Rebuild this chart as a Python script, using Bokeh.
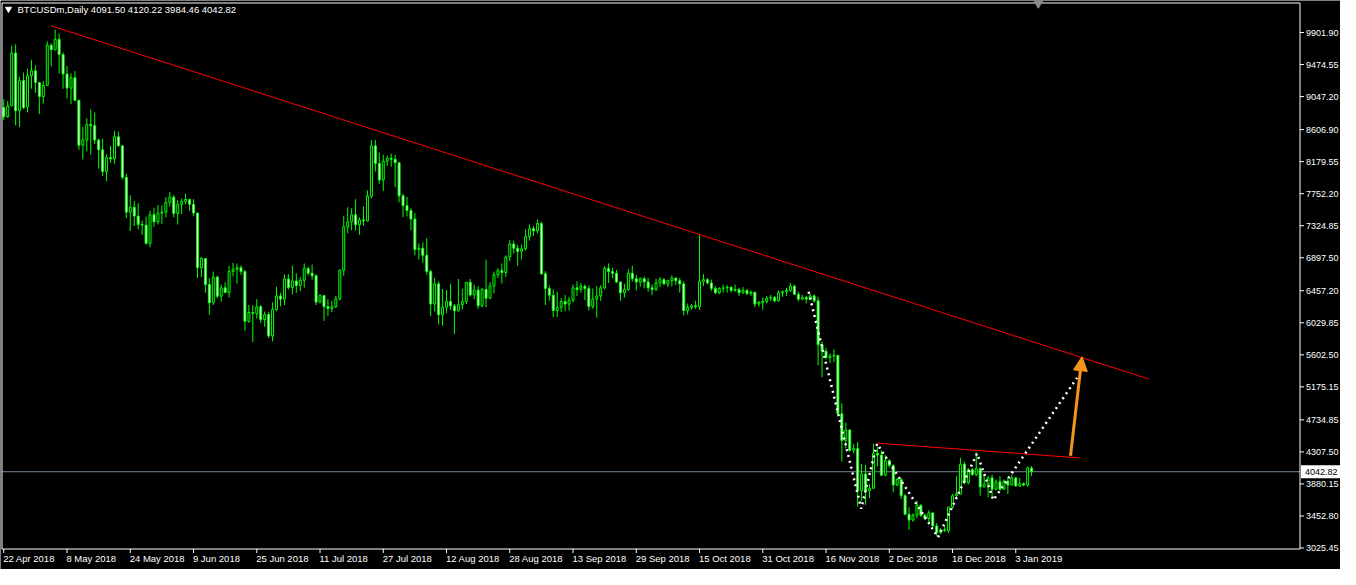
from bokeh.plotting import figure
from bokeh.models import Range1d, Arrow, NormalHead, ColumnDataSource
from bokeh.core.properties import value
from bokeh.embed import file_html
from bokeh.resources import INLINE

# ---------------- data (BTCUSDm, Daily) ----------------
opens = [8901, 8780, 8923, 9629, 8858, 9261, 8910, 9326, 9391, 9235,
         9049, 9196, 9733, 9673, 9811, 9608, 9348, 9161, 9300, 8997,
         8399, 8468, 8676, 8659, 8468, 8338, 8048, 8234, 8217, 8512,
         8390, 7970, 7506, 7571, 7454, 7342, 7333, 7090, 7472, 7376,
         7493, 7506, 7636, 7706, 7489, 7610, 7649, 7675, 7610, 7493,
         6765, 6886, 6540, 6297, 6640, 6384, 6496, 6436, 6713, 6743,
         6765, 6713, 6050, 6167, 6154, 6245, 6072, 6141, 5855, 6206,
         6388, 6345, 6614, 6501, 6588, 6527, 6596, 6752, 6691, 6657,
         6306, 6392, 6245, 6219, 6245, 6349, 6730, 7311, 7376, 7471,
         7337, 7402, 7389, 7718, 8390, 8156, 7935, 8186, 8225, 8212,
         8165, 7723, 7593, 7528, 7415, 7008, 7025, 6930, 6713, 6280,
         6549, 6137, 6236, 6314, 6254, 6189, 6271, 6314, 6570, 6401,
         6466, 6258, 6475, 6358, 6518, 6670, 6726, 6700, 6908, 7081,
         7025, 6982, 7016, 7181, 7285, 7255, 7354, 6683, 6488, 6397,
         6193, 6236, 6314, 6280, 6332, 6496, 6475, 6518, 6488, 6249,
         6345, 6388, 6496, 6756, 6713, 6691, 6574, 6431, 6475, 6691,
         6618, 6574, 6618, 6574, 6496, 6475, 6561, 6605, 6550, 6591,
         6626, 6591, 6548, 6193, 6236, 6258, 6245, 6583, 6605, 6561,
         6488, 6431, 6488, 6496, 6505, 6462, 6475, 6431, 6462, 6418,
         6436, 6280, 6301, 6314, 6358, 6366, 6323, 6431, 6444, 6462,
         6518, 6410, 6345, 6366, 6345, 6388, 6323, 5738, 5651, 5565,
         5586, 5595, 4815, 4460, 4599, 4330, 4351, 3790, 4013, 3788,
         3823, 4286, 4265, 3996, 4191, 4126, 3866, 3940, 3723, 3476,
         3398, 3463, 3593, 3463, 3420, 3493, 3320, 3233, 3268, 3260,
         3571, 3723, 3745, 4143, 3896, 4070, 4005, 4083, 3840, 3875,
         3961, 3810, 3909, 3810, 3918, 3866, 3961, 3853, 3883, 3866,
         4091.50]
highs = [9010, 8988, 9725, 9746, 9313, 9369, 9421, 9538, 9465, 9240,
         9257, 9785, 9759, 9941, 9889, 9638, 9456, 9356, 9387, 9006,
         8642, 8759, 8876, 8836, 8486, 8486, 8278, 8390, 8590, 8577,
         8395, 8018, 7731, 7654, 7623, 7394, 7446, 7524, 7563, 7602,
         7597, 7706, 7775, 7731, 7666, 7688, 7753, 7688, 7679, 7500,
         6908, 6890, 6627, 6713, 6657, 6540, 6570, 6791, 6830, 6821,
         6795, 6735, 6267, 6267, 6345, 6267, 6180, 6171, 6301, 6510,
         6431, 6678, 6678, 6791, 6691, 6640, 6821, 6778, 6808, 6678,
         6410, 6400, 6345, 6323, 6388, 6743, 7458, 7571, 7558, 7679,
         7437, 7580, 7796, 8468, 8468, 8303, 8273, 8260, 8286, 8273,
         8170, 7753, 7709, 7558, 7493, 7090, 7103, 7160, 6735, 6627,
         6583, 6483, 6466, 6549, 6280, 6614, 6483, 6575, 6614, 6540,
         6518, 6496, 6874, 6570, 6713, 6756, 6821, 6930, 7133, 7125,
         7073, 7073, 7276, 7341, 7320, 7406, 7376, 6718, 6527, 6475,
         6444, 6358, 6401, 6375, 6540, 6583, 6561, 6540, 6531, 6488,
         6518, 6531, 6787, 6821, 6765, 6735, 6580, 6548, 6743, 6791,
         6670, 6635, 6648, 6626, 6540, 6618, 6640, 6626, 6605, 6661,
         6635, 6626, 6583, 6288, 6280, 6323, 7198, 6678, 6626, 6605,
         6518, 6505, 6540, 6531, 6510, 6540, 6497, 6505, 6483, 6462,
         6444, 6323, 6366, 6388, 6401, 6388, 6462, 6462, 6496, 6561,
         6540, 6444, 6401, 6388, 6418, 6410, 6375, 5781, 5695, 5621,
         5673, 5600, 4958, 4698, 4610, 4416, 4438, 4150, 4135, 3880,
         4416, 4373, 4330, 4265, 4210, 4140, 3960, 3961, 3745, 3571,
         3490, 3658, 3615, 3480, 3528, 3506, 3355, 3290, 3310, 3575,
         3745, 3983, 4230, 4178, 4091, 4090, 4308, 4100, 4005, 3983,
         4005, 3940, 3983, 3940, 3961, 4005, 3970, 3961, 3900, 4113,
         4120.22]
lows = [8737, 8763, 8923, 8663, 8642, 8880, 8836, 9153, 9096, 8815,
        8954, 9190, 9452, 9665, 9356, 9153, 9023, 8945, 8988, 8338,
        8208, 8317, 8273, 8416, 8087, 7987, 7918, 8165, 8152, 8382,
        7940, 7428, 7255, 7320, 7277, 7203, 7073, 7038, 7311, 7342,
        7350, 7437, 7580, 7437, 7341, 7480, 7610, 7523, 7450, 6627,
        6640, 6431, 6137, 6267, 6354, 6315, 6423, 6367, 6648, 6553,
        6670, 5925, 6029, 5773, 6085, 6029, 5977, 5825, 5782, 6184,
        6249, 6267, 6475, 6410, 6431, 6453, 6496, 6661, 6605, 6267,
        6289, 6055, 6120, 6171, 6228, 6327, 6657, 7224, 7263, 7263,
        7203, 7320, 7380, 7688, 8048, 7883, 7788, 8121, 8113, 7840,
        7636, 7437, 7450, 7268, 6930, 6874, 6830, 6670, 6120, 6180,
        6007, 5990, 6158, 6202, 5877, 6180, 6206, 6280, 6379, 6345,
        6215, 6236, 6236, 6345, 6423, 6627, 6553, 6640, 6856, 6951,
        6787, 6874, 6995, 7125, 7190, 7224, 6670, 6267, 6323, 6106,
        6106, 6171, 6184, 6193, 6301, 6388, 6431, 6332, 6193, 6215,
        6098, 6323, 6475, 6561, 6626, 6561, 6323, 6366, 6453, 6583,
        6462, 6510, 6488, 6444, 6397, 6453, 6505, 6531, 6505, 6518,
        6531, 6431, 6128, 6141, 6202, 6215, 6202, 6518, 6540, 6453,
        6410, 6410, 6431, 6431, 6431, 6444, 6388, 6418, 6401, 6388,
        6236, 6245, 6202, 6288, 6323, 6301, 6314, 6375, 6388, 6444,
        6401, 6314, 6332, 6288, 6332, 6301, 5465, 5305, 5543, 5491,
        5508, 4806, 4178, 4352, 4308, 4286, 3580, 3650, 3600, 3690,
        3810, 4113, 3983, 3983, 4100, 3766, 3850, 3680, 3463, 3268,
        3380, 3420, 3441, 3400, 3355, 3311, 3181, 3210, 3240, 3225,
        3550, 3700, 3740, 3875, 3875, 3990, 3983, 3723, 3835, 3701,
        3680, 3790, 3788, 3800, 3745, 3866, 3840, 3840, 3850, 3840,
        3984.46]
closes = [8780, 8923, 9629, 8858, 9261, 8901, 9326, 9391, 9235, 9049,
          9196, 9733, 9673, 9811, 9608, 9348, 9161, 9300, 8997, 8399,
          8468, 8676, 8659, 8468, 8338, 8048, 8234, 8217, 8512, 8390,
          7970, 7506, 7571, 7454, 7342, 7333, 7090, 7472, 7376, 7493,
          7506, 7636, 7706, 7489, 7610, 7649, 7675, 7610, 7493, 6765,
          6886, 6540, 6297, 6640, 6384, 6496, 6436, 6713, 6743, 6765,
          6713, 6050, 6167, 6154, 6245, 6072, 6141, 5855, 6206, 6388,
          6345, 6614, 6501, 6588, 6527, 6596, 6752, 6691, 6657, 6306,
          6392, 6245, 6219, 6245, 6349, 6730, 7311, 7376, 7471, 7337,
          7402, 7389, 7718, 8390, 8156, 7935, 8186, 8225, 8212, 8165,
          7723, 7593, 7528, 7415, 7008, 7025, 6930, 6713, 6280, 6549,
          6137, 6236, 6314, 6254, 6189, 6271, 6314, 6570, 6401, 6466,
          6258, 6475, 6358, 6518, 6670, 6726, 6700, 6908, 7081, 7025,
          6982, 7016, 7181, 7285, 7255, 7354, 6683, 6488, 6397, 6193,
          6236, 6314, 6280, 6332, 6496, 6475, 6518, 6488, 6249, 6345,
          6388, 6496, 6756, 6713, 6691, 6574, 6431, 6475, 6691, 6618,
          6574, 6618, 6574, 6496, 6475, 6561, 6605, 6550, 6591, 6626,
          6591, 6548, 6193, 6236, 6258, 6245, 6583, 6605, 6561, 6488,
          6431, 6488, 6496, 6505, 6462, 6475, 6431, 6462, 6418, 6436,
          6280, 6301, 6314, 6358, 6366, 6323, 6431, 6444, 6462, 6518,
          6410, 6345, 6366, 6345, 6388, 6323, 5738, 5651, 5565, 5586,
          5595, 4815, 4460, 4599, 4330, 4351, 3790, 4013, 3788, 3823,
          4286, 4265, 3996, 4191, 4126, 3866, 3940, 3723, 3476, 3398,
          3463, 3593, 3463, 3420, 3493, 3320, 3233, 3268, 3260, 3571,
          3723, 3745, 4143, 3896, 4070, 4005, 4083, 3840, 3875, 3961,
          3810, 3909, 3810, 3918, 3866, 3961, 3853, 3883, 3866, 4091.50,
          4042.82]

date_tick_bars = [0, 16, 32, 48, 64, 80, 96, 112, 128, 144, 160, 176, 192, 208, 224, 240, 256]
date_tick_labels = ["22 Apr 2018", "8 May 2018", "24 May 2018", "9 Jun 2018", "25 Jun 2018",
                    "11 Jul 2018", "27 Jul 2018", "12 Aug 2018", "28 Aug 2018", "13 Sep 2018",
                    "29 Sep 2018", "15 Oct 2018", "31 Oct 2018", "16 Nov 2018", "2 Dec 2018",
                    "18 Dec 2018", "3 Jan 2019"]
price_ticks = [9901.90, 9474.55, 9047.20, 8606.90, 8179.55, 7752.20, 7324.85, 6897.50,
               6457.20, 6029.85, 5602.50, 5175.15, 4734.85, 4307.50, 3880.15, 3452.80, 3025.45]
price_tick_labels = ["%.2f" % v for v in price_ticks]

# drawn objects (bar index, price)
trend_main_x = [11.9, 289.7]
trend_main_y = [9993, 5278]
neck_x = [220.75, 272.2]
neck_y = [4425, 4227]
zigzag_x = [203.6, 216.9, 220.9, 236.35, 246.2, 250.35, 271.5]
zigzag_y = [6444, 3549, 4416, 3168, 4286, 3666, 5296]
arrow_x = [269.85, 272.75]
arrow_y = [4256, 5577]
current_price = 4042.82
current_price_label = "4042.82"
shift_marker_x = [261.7]
title_text = "BTCUSDm,Daily  4091.50 4120.22 3984.46 4042.82"

# ---------------- layout (pixels) ----------------
W, H = 1340, 569
L, R, T, B = 1.5, 1299.5, 2.5, 548.5          # chart frame in canvas pixels
X_LO, X_HI = -0.45, 327.9                     # bar-index range of chart frame
P_HI, P_LO = 10296.0, 3012.0                  # price range of chart frame
bar_px = (R - L) / (X_HI - X_LO)
ppp = (P_HI - P_LO) / (B - T)


def xpx(px):
    return X_LO + (px - L) / bar_px


def ypx(py):
    return P_HI - (py - T) * ppp


FONT = value("Liberation Sans")
GREEN = "#00ff00"

p = figure(width=W, height=H, output_backend="svg", toolbar_location=None,
           x_range=Range1d(xpx(0), xpx(W)), y_range=Range1d(ypx(H), ypx(0)),
           min_border=0, background_fill_color="black", border_fill_color="black")
p.axis.visible = False
p.grid.visible = False
p.outline_line_color = None

# current price line
p.line([xpx(L), xpx(R)], [current_price, current_price], line_color="#778899", line_width=1)

# candles
idx = list(range(len(opens)))
body_top = [max(o, c) for o, c in zip(opens, closes)]
body_bot = [min(o, c) for o, c in zip(opens, closes)]
fills = ["white" if c < o else "black" for o, c in zip(opens, closes)]
src = ColumnDataSource(dict(x=idx, h=highs, l=lows, t=body_top, b=body_bot, f=fills))
p.segment(x0="x", y0="l", x1="x", y1="h", source=src, line_color=GREEN, line_width=1)
p.vbar(x="x", top="t", bottom="b", width=0.5, source=src,
       fill_color="f", line_color=GREEN, line_width=1)

# trend lines
p.line(trend_main_x, trend_main_y, line_color="red", line_width=1)
p.line(neck_x, neck_y, line_color="red", line_width=1)

# dotted projection
p.line(zigzag_x, zigzag_y, line_color="white", line_width=2.5, line_dash="2 4")

# orange arrow
p.add_layout(Arrow(x_start=arrow_x[0], y_start=arrow_y[0], x_end=arrow_x[1], y_end=arrow_y[1],
                   line_color="#f7941e", line_width=3,
                   end=NormalHead(size=14, fill_color="#f7941e", line_color="#f7941e")))

# chart frame
p.line([xpx(L), xpx(R), xpx(R), xpx(L), xpx(L)],
       [ypx(T), ypx(T), ypx(B), ypx(B), ypx(T)], line_color="white", line_width=1)

# chart shift marker
p.scatter(shift_marker_x, [ypx(2)], marker="inverted_triangle", size=10,
          fill_color="#8c8c8c", line_color="#8c8c8c")

# price axis (right)
n = len(price_ticks)
p.segment(x0=[xpx(R)] * n, y0=price_ticks, x1=[xpx(R + 4)] * n, y1=price_ticks,
          line_color="white", line_width=1)
p.text(x=[xpx(R + 6)] * n, y=price_ticks, text=price_tick_labels, text_color="white",
       text_font=FONT, text_font_size="9px", text_align="left", text_baseline="middle")

# current price tag
p.quad(left=[xpx(R + 1)], right=[xpx(W)], top=[current_price + 6.5 * ppp],
       bottom=[current_price - 6.5 * ppp], fill_color="white", line_color=None)
p.text(x=[xpx(R + 5)], y=[current_price], text=[current_price_label], text_color="black",
       text_font=FONT, text_font_size="9px", text_align="left", text_baseline="middle")

# date axis (bottom)
m = len(date_tick_bars)
p.segment(x0=date_tick_bars, y0=[ypx(B)] * m, x1=date_tick_bars, y1=[ypx(B + 4)] * m,
          line_color="white", line_width=1)
p.text(x=[b - 0.15 for b in date_tick_bars], y=[ypx(B + 3.5)] * m, text=date_tick_labels,
       text_color="white", text_font=FONT, text_font_size="9.5px",
       text_align="left", text_baseline="top")

# title
p.scatter([xpx(8)], [ypx(8.5)], marker="inverted_triangle", size=6,
          fill_color="white", line_color="white")
p.text(x=[xpx(17)], y=[ypx(9)], text=[title_text], text_color="white",
       text_font=FONT, text_font_size="9.5px", text_align="left", text_baseline="middle")

open("out.html", "w").write(file_html(p, INLINE))
